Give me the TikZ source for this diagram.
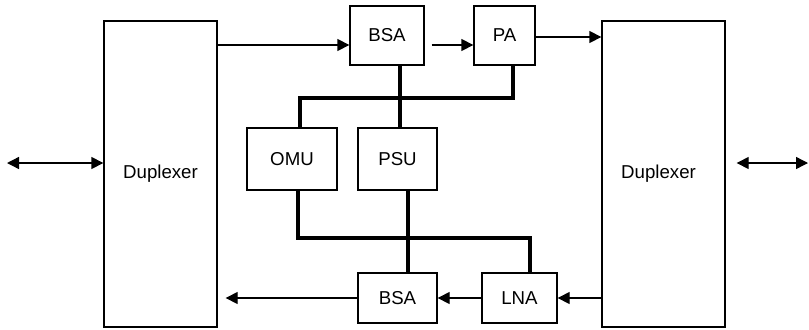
\documentclass[tikz,border=0pt]{standalone}
\usepackage{fontspec}
\setmainfont{Liberation Sans}
\usetikzlibrary{arrows.meta}
\begin{document}
\begin{tikzpicture}[x=0.75pt,y=-0.75pt,
  blk/.style={draw,line width=1pt,rectangle,inner sep=0pt,font=\fontsize{14}{16}\selectfont},
  arr/.style={line width=1pt,-{Triangle[length=9pt,width=9pt]}},
  dbl/.style={line width=1pt,{Triangle[length=9pt,width=9pt]}-{Triangle[length=9pt,width=9pt]}},
  bus/.style={line width=2.5pt,line join=miter}]
\useasboundingbox (0,0) rectangle (809,329);
% blocks
\node[blk,minimum width=84.75pt,minimum height=229.5pt] (D1) at (160.5,174) {Duplexer};
\node[blk,minimum width=92.25pt,minimum height=229.5pt] (D2) at (663.5,174) {\kern-7.5pt Duplexer};
\node[blk,minimum width=55.5pt,minimum height=44.25pt] (B1) at (387,35.5) {\raisebox{-2.6pt}{BSA}};
\node[blk,minimum width=45.75pt,minimum height=44.25pt] (PA) at (504.5,35.5) {\raisebox{-1.9pt}{PA}};
\node[blk,minimum width=67.5pt,minimum height=46.5pt] (OMU) at (292,159) {OMU};
\node[blk,minimum width=59.25pt,minimum height=46.5pt] (PSU) at (397.5,159) {PSU};
\node[blk,minimum width=59.25pt,minimum height=37.5pt] (B2) at (397.5,298) {\raisebox{-4.8pt}{BSA}};
\node[blk,minimum width=56.25pt,minimum height=37.5pt] (LNA) at (519.5,298) {\raisebox{-5.2pt}{LNA}};
% helper coordinates
\coordinate (r1) at (0,45);
\coordinate (r2) at (0,37);
\coordinate (eL) at (7,163);
\coordinate (eR) at (808,163);
\coordinate (xa) at (400,0);
\coordinate (xb) at (300,0);
\coordinate (xc) at (513,0);
\coordinate (ya) at (0,98);
\coordinate (xd) at (298,0);
\coordinate (xe) at (530,0);
\coordinate (xf) at (408,0);
\coordinate (yb) at (0,238);
% signal arrows
\draw[arr] (D1.east |- r1) -- (B1.west |- r1);
\draw[arr,shorten <=5.25pt] (B1.east |- r1) -- (PA.west |- r1);
\draw[arr] (PA.east |- r2) -- (D2.west |- r2);
\draw[arr] (D2.west |- LNA) -- (LNA.east);
\draw[arr] (LNA.west) -- (B2.east);
\draw[arr,shorten >=6pt] (B2.west) -- (D1.east |- B2);
\draw[dbl] (eL) -- (D1.west |- eL);
\draw[dbl,shorten <=8.25pt] (D2.east |- eR) -- (eR);
% bus lines
\draw[bus] (B1.south -| xa) -- (PSU.north -| xa);
\draw[bus] (OMU.north -| xb) -- (xb |- ya) -- (xc |- ya) -- (PA.south -| xc);
\draw[bus] (OMU.south -| xd) -- (xd |- yb) -- (xe |- yb) -- (LNA.north -| xe);
\draw[bus] (PSU.south -| xf) -- (B2.north -| xf);
\end{tikzpicture}
\end{document}
